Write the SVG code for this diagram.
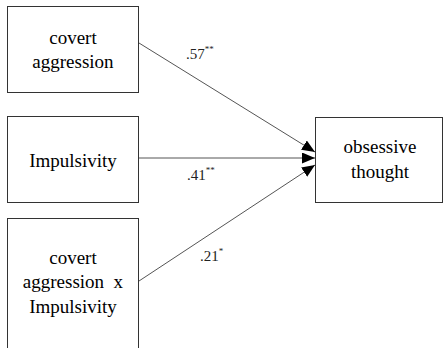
<svg xmlns="http://www.w3.org/2000/svg" width="444" height="348" viewBox="0 0 444 348">
<style>
.box{fill:#fff;stroke:#333;stroke-width:1}
.t{font-size:19px;fill:#000;text-anchor:middle}
.c{stroke:#555;stroke-width:1;fill:none;marker-end:url(#ah)}
.l{font-size:15px;fill:#222}
.s{font-size:9px}
</style>
<defs>
<marker id="ah" viewBox="0 0 13 11" refX="13" refY="5.5" markerWidth="13" markerHeight="11" markerUnits="userSpaceOnUse" orient="auto">
<path d="M0,0 L13,5.5 L0,11 z" fill="#000"/>
</marker>
</defs>
<rect width="444" height="348" fill="#fff"/>
<g font-family="Liberation Serif, DejaVu Serif, serif">
<g id="covert_aggression">
<rect class="box" x="7.5" y="6.5" width="131" height="86"/>
<text class="t" x="73" y="44">covert</text>
<text class="t" x="73" y="68">aggression</text>
</g>
<g id="impulsivity">
<rect class="box" x="7.5" y="116.5" width="131" height="86"/>
<text class="t" x="73" y="167">Impulsivity</text>
</g>
<g id="interaction">
<rect class="box" x="7.5" y="218.5" width="131" height="140"/>
<text class="t" x="73" y="264">covert</text>
<text class="t" x="73" y="288">aggression&#160;&#160;x</text>
<text class="t" x="73" y="313">Impulsivity</text>
</g>
<g id="obsessive_thought">
<rect class="box" x="315.5" y="117.5" width="127" height="85"/>
<text class="t" x="380" y="153">obsessive</text>
<text class="t" x="380" y="178">thought</text>
</g>
<g id="connectors">
<line class="c" x1="139" y1="43" x2="315" y2="152"/>
<line class="c" x1="139" y1="158" x2="315" y2="158"/>
<line class="c" x1="139" y1="281" x2="315" y2="165"/>
<text class="l" x="186" y="59">.57<tspan class="s" dy="-7">**</tspan></text>
<text class="l" x="187" y="180">.41<tspan class="s" dy="-7">**</tspan></text>
<text class="l" x="200" y="261">.21<tspan class="s" dy="-7">*</tspan></text>
</g>
</g>
</svg>
